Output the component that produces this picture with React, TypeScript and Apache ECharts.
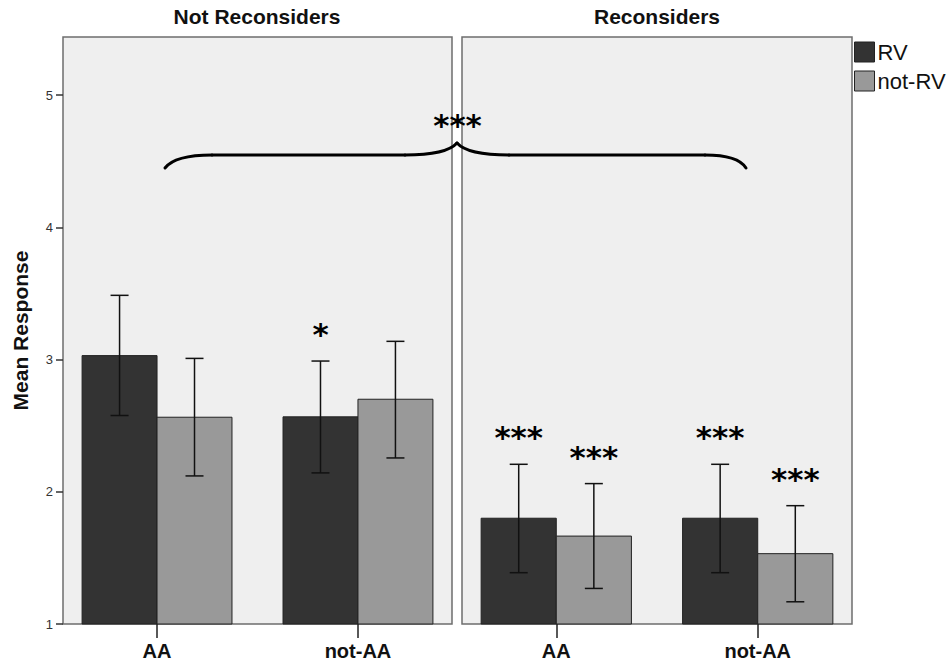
import React, { useEffect, useRef } from "react";
import * as echarts from "echarts";

// ---- Data ----
const categories = ["AA", "not-AA"];
const panelTitles = ["Not Reconsiders", "Reconsiders"];
const groupNames = ["RV", "not-RV"];
const yTicks = [1, 2, 3, 4, 5];

// Not Reconsiders
const notRecRV = [3.03, 2.567];
const notRecRVLow = [2.577, 2.143];
const notRecRVHigh = [3.486, 2.989];
const notRecRVStars = ["", "*"];

const notRecNotRV = [2.564, 2.7];
const notRecNotRVLow = [2.12, 2.256];
const notRecNotRVHigh = [3.009, 3.138];
const notRecNotRVStars = ["", ""];

// Reconsiders
const recRV = [1.8, 1.8];
const recRVLow = [1.388, 1.388];
const recRVHigh = [2.208, 2.208];
const recRVStars = ["***", "***"];

const recNotRV = [1.665, 1.532];
const recNotRVLow = [1.269, 1.168];
const recNotRVHigh = [2.062, 1.895];
const recNotRVStars = ["***", "***"];

const overallStars = "***";

// ---- Style ----
const FONT = "Liberation Sans, Arial, sans-serif";
const STAR_FONT = "DejaVu Sans, sans-serif";
const colors = ["#333333", "#999999"];
const Y_MIN = 1;
const Y_MAX = 5.44;
const X_MIN = -0.468;
const X_MAX = 1.468;
const BAR_W = 0.373; // in x-axis units

function makeSeries(
  panel: number,
  group: number,
  means: number[],
  lows: number[],
  highs: number[],
  stars: string[]
) {
  const data = means.map((m, i) => [i, m, lows[i], highs[i], stars[i]]);
  const sign = group === 0 ? -1 : 1;
  return {
    type: "custom",
    name: groupNames[group],
    xAxisIndex: panel,
    yAxisIndex: panel,
    clip: false,
    itemStyle: { color: colors[group], borderColor: "#222", borderWidth: 1 },
    data,
    renderItem: (params: any, api: any) => {
      const x = api.value(0) as number;
      const mean = api.value(1) as number;
      const lo = api.value(2) as number;
      const hi = api.value(3) as number;
      const star = data[params.dataIndex][4] as string;
      const center = x + (sign * BAR_W) / 2;
      const left = api.coord([x + (sign < 0 ? -BAR_W : 0), mean]);
      const bottom = api.coord([x, Y_MIN]);
      const w = api.size([BAR_W, 0])[0];
      const top = api.coord([center, mean]);
      const pHi = api.coord([center, hi]);
      const pLo = api.coord([center, lo]);
      const cx = top[0];
      const children: any[] = [
        {
          type: "rect",
          shape: { x: left[0], y: left[1], width: w, height: bottom[1] - left[1] },
          style: { fill: colors[group], stroke: "#222", lineWidth: 1 },
        },
        {
          type: "line",
          shape: { x1: cx, y1: pHi[1], x2: cx, y2: pLo[1] },
          style: { stroke: "#111", lineWidth: 1.5 },
        },
        {
          type: "line",
          shape: { x1: cx - 9, y1: pHi[1], x2: cx + 9, y2: pHi[1] },
          style: { stroke: "#111", lineWidth: 1.5 },
        },
        {
          type: "line",
          shape: { x1: cx - 9, y1: pLo[1], x2: cx + 9, y2: pLo[1] },
          style: { stroke: "#111", lineWidth: 1.5 },
        },
      ];
      if (star) {
        children.push({
          type: "text",
          style: {
            text: star,
            x: cx,
            y: pHi[1] - 30 + 3,
            align: "center",
            verticalAlign: "middle",
            font: `bold 31px ${STAR_FONT}`,
            fill: "#000",
          },
        });
      }
      return { type: "group", children };
    },
  };
}

export default function App() {
  const ref = useRef<HTMLDivElement>(null);
  useEffect(() => {
    if (!ref.current) return;
    const chart = echarts.init(ref.current, null, { renderer: "svg" });

    const grids = [
      { left: 63, top: 37, width: 389, height: 587 },
      { left: 462, top: 37, width: 390, height: 587 },
    ].map((g) => ({
      ...g,
      show: true,
      backgroundColor: "#efefef",
      borderColor: "#6e6e6e",
      borderWidth: 1.5,
    }));

    const xAxes = [0, 1].map((i) => ({
      type: "value",
      gridIndex: i,
      min: X_MIN,
      max: X_MAX,
      axisLine: { show: false, onZero: false },
      splitLine: { show: false },
      axisTick: {
        show: true,
        customValues: [0, 1],
        length: 14,
        lineStyle: { color: "#222", width: 1.5 },
      },
      axisLabel: {
        show: true,
        customValues: [0, 1],
        formatter: (v: number) => categories[Math.round(v)],
        fontFamily: FONT,
        fontSize: 20,
        fontWeight: "bold",
        color: "#111",
        margin: 17,
      },
    }));

    const yAxes = [0, 1].map((i) => ({
      type: "value",
      gridIndex: i,
      min: Y_MIN,
      max: Y_MAX,
      interval: 1,
      position: "left",
      splitLine: { show: false },
      axisLine: { show: false, onZero: false },
      name: i === 0 ? "Mean Response" : "",
      nameLocation: "middle",
      nameRotate: 90,
      nameGap: 32,
      nameTextStyle: {
        fontFamily: FONT,
        fontSize: 21,
        fontWeight: "bold",
        color: "#111",
      },
      axisTick: {
        show: i === 0,
        customValues: yTicks,
        length: 7,
        lineStyle: { color: "#333", width: 1.5 },
      },
      axisLabel: {
        show: i === 0,
        customValues: yTicks,
        fontFamily: FONT,
        fontSize: 13,
        color: "#333",
        margin: 10,
      },
    }));

    const series = [
      makeSeries(0, 0, notRecRV, notRecRVLow, notRecRVHigh, notRecRVStars),
      makeSeries(0, 1, notRecNotRV, notRecNotRVLow, notRecNotRVHigh, notRecNotRVStars),
      makeSeries(1, 0, recRV, recRVLow, recRVHigh, recRVStars),
      makeSeries(1, 1, recNotRV, recNotRVLow, recNotRVHigh, recNotRVStars),
    ];

    const braceStyle = { stroke: "#000", lineWidth: 3, fill: null, lineCap: "round" };

    chart.setOption({
      animation: false,
      backgroundColor: "#ffffff",
      grid: grids,
      xAxis: xAxes,
      yAxis: yAxes,
      legend: {
        data: groupNames,
        orient: "vertical",
        left: 854,
        top: 41,
        padding: 0,
        itemWidth: 20,
        itemHeight: 20,
        itemGap: 7,
        icon: "rect",
        selectedMode: false,
        itemStyle: { borderColor: "#222", borderWidth: 1 },
        textStyle: { fontFamily: FONT, fontSize: 22, color: "#111", padding: [0, 0, 0, -2] },
      },
      series,
      graphic: [
        {
          type: "text",
          x: 257,
          y: 6,
          style: {
            text: panelTitles[0],
            font: `bold 21px ${FONT}`,
            fill: "#111",
            align: "center",
            verticalAlign: "top",
          },
        },
        {
          type: "text",
          x: 657,
          y: 6,
          style: {
            text: panelTitles[1],
            font: `bold 21px ${FONT}`,
            fill: "#111",
            align: "center",
            verticalAlign: "top",
          },
        },
        {
          type: "text",
          x: 457.5,
          y: 125,
          style: {
            text: overallStars,
            font: `bold 31px ${STAR_FONT}`,
            fill: "#000",
            align: "center",
            verticalAlign: "middle",
          },
        },
        {
          type: "bezierCurve",
          shape: { x1: 165, y1: 168, cpx1: 175, cpy1: 155, x2: 212, y2: 155 },
          style: braceStyle,
        },
        { type: "line", shape: { x1: 212, y1: 155, x2: 405, y2: 155 }, style: braceStyle },
        {
          type: "bezierCurve",
          shape: { x1: 405, y1: 155, cpx1: 435, cpy1: 155, cpx2: 450, cpy2: 151, x2: 457, y2: 143 },
          style: braceStyle,
        },
        {
          type: "bezierCurve",
          shape: { x1: 457, y1: 143, cpx1: 464, cpy1: 151, cpx2: 479, cpy2: 155, x2: 509, y2: 155 },
          style: braceStyle,
        },
        { type: "line", shape: { x1: 509, y1: 155, x2: 705, y2: 155 }, style: braceStyle },
        {
          type: "bezierCurve",
          shape: { x1: 705, y1: 155, cpx1: 738, cpy1: 155, x2: 746, y2: 168 },
          style: braceStyle,
        },
      ],
    });
    return () => chart.dispose();
  }, []);

  return (
    <div
      ref={ref}
      style={{ position: "fixed", left: 0, top: 0, width: 951, height: 663 }}
    />
  );
}
